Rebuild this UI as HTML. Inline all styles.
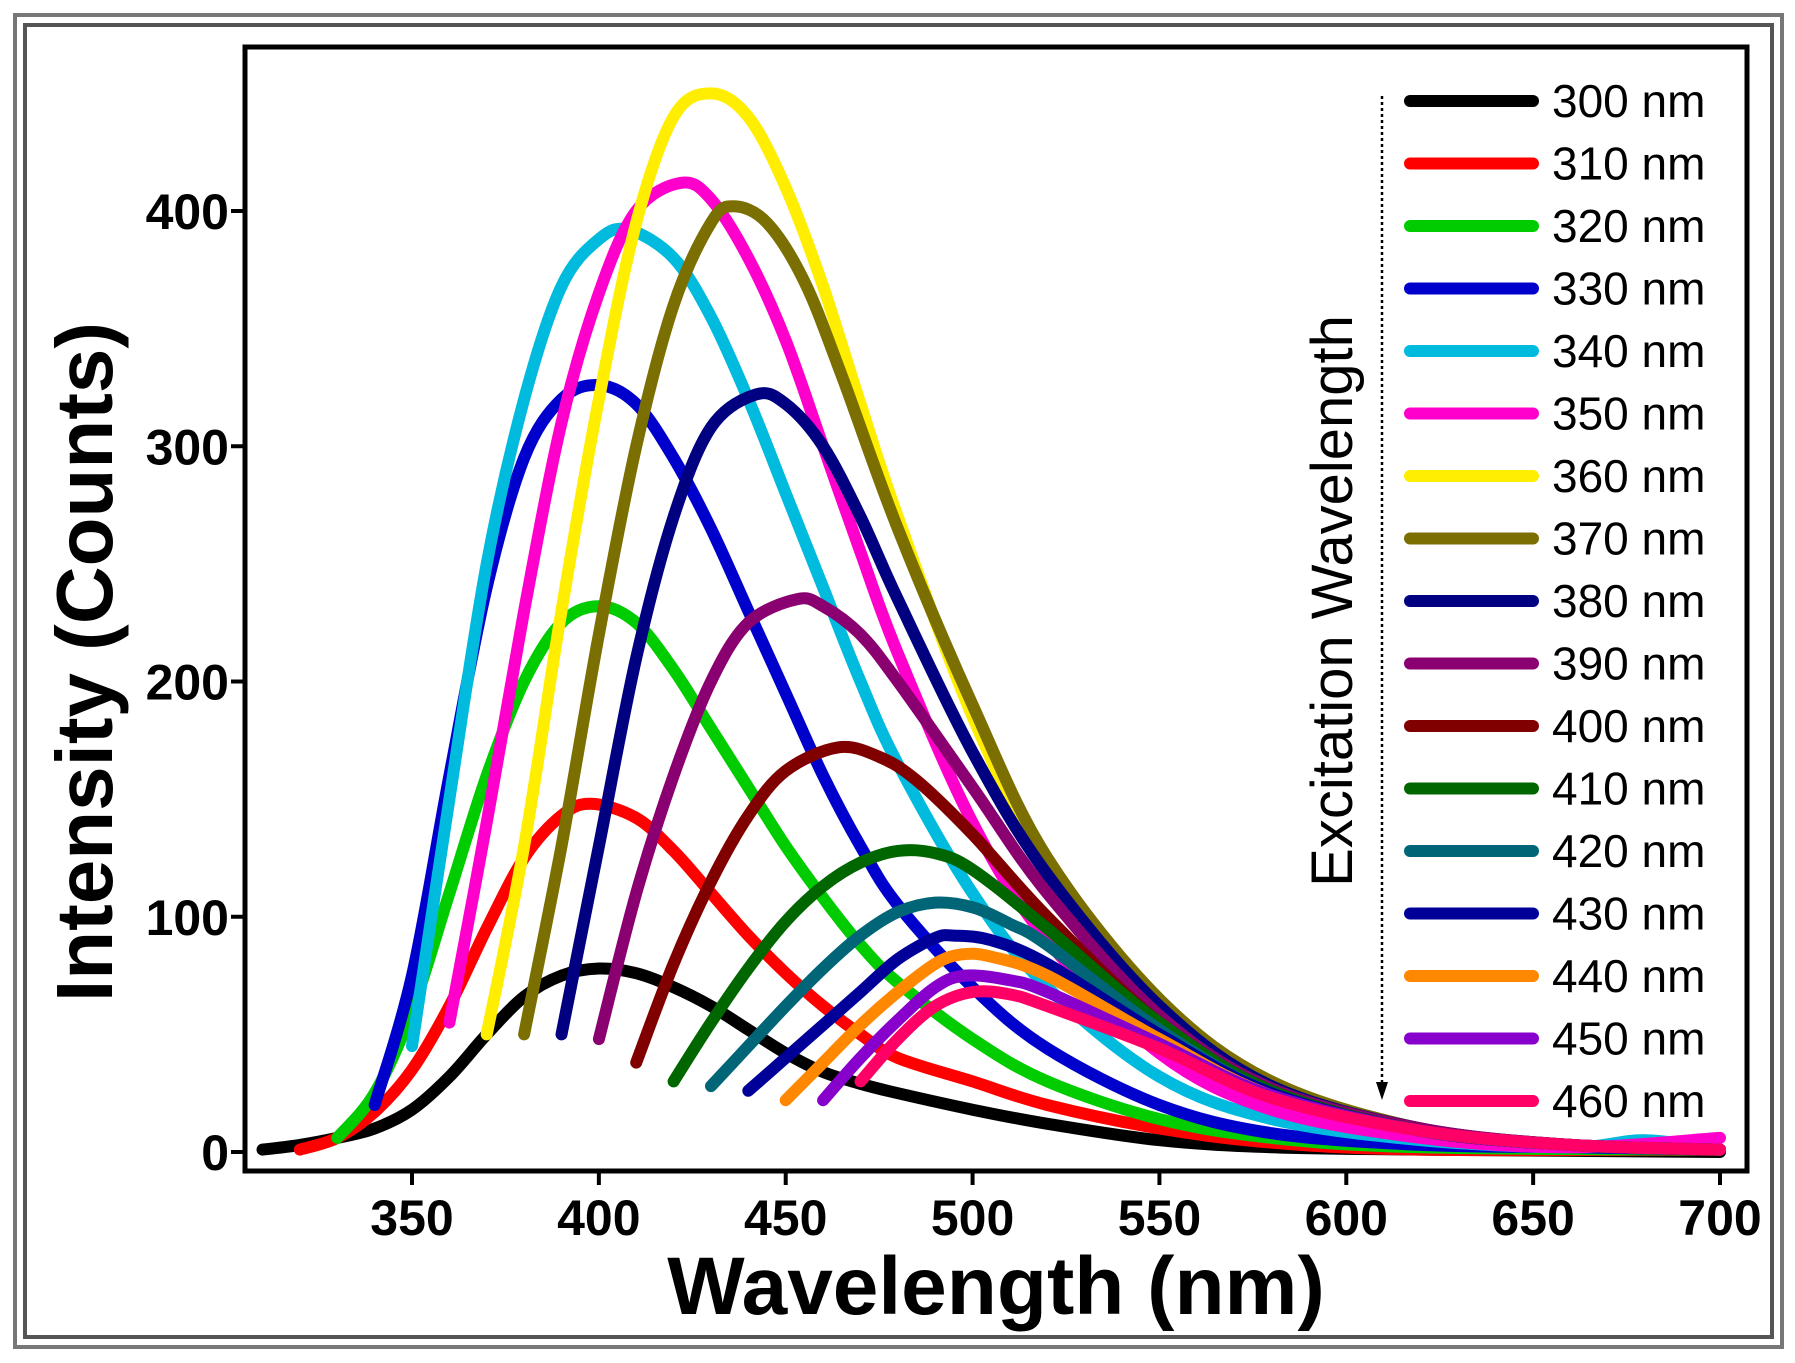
<!DOCTYPE html>
<html><head><meta charset="utf-8"><style>
html,body{margin:0;padding:0;background:#fff}
svg{display:block}
text{font-family:"Liberation Sans",Arial,sans-serif}
</style></head><body>
<svg id="chart" width="1795" height="1363" viewBox="0 0 1795 1363" xmlns="http://www.w3.org/2000/svg">
<rect x="15" y="15" width="1767" height="1332" fill="none" stroke="#777" stroke-width="4"/>
<rect x="25" y="25" width="1747" height="1312" fill="none" stroke="#555" stroke-width="4"/>
<g id="plot"></g>
</svg>
<script>
const wl300=[310,320,330,340,350,360,370,380,390,400,410,420,430,440,450,460,470,480,500,520,550,580,620,700];
const i300=[1,3,6,10,18,32,50,66,75,78,76,70,62,52,42,34,29,25,18,12,5,2,1,0];
const wl310=[320,330,340,350,360,370,380,390,398,410,420,430,440,450,460,470,480,500,520,550,580,620,700];
const i310=[1,6,17,35,62,95,125,143,148,142,128,110,92,76,62,50,40,30,20,10,4,1,1];
const wl320=[330,340,350,360,370,380,390,400,410,420,430,440,450,460,470,480,500,520,550,580,620,700];
const i320=[6,25,60,110,160,200,225,232,225,205,180,155,130,108,88,72,48,30,14,6,2,1];
const wl330=[340,350,360,370,380,390,400,410,420,430,440,450,460,470,480,500,520,550,580,620,660,700];
const i330=[20,75,160,240,295,320,326,318,295,265,230,195,160,130,105,70,44,20,8,3,2,1];
const wl340=[350,360,370,380,390,400,408,420,430,440,450,460,470,480,500,520,550,580,620,660,680,700];
const i340=[45,150,250,320,368,388,392,380,355,320,280,240,200,165,110,70,32,14,5,2,5,1];
const wl350=[360,370,380,390,400,410,422,430,440,450,460,470,480,500,520,550,580,620,660,700];
const i350=[55,140,230,310,365,400,412,405,380,345,300,255,212,140,90,42,18,6,2,6];
const wl360=[370,380,390,400,410,420,430,440,450,460,470,480,500,520,550,580,620,660,700];
const i360=[50,130,230,320,395,440,450,440,410,368,318,270,185,122,62,28,10,3,1];
const wl370=[380,390,400,410,420,430,436,445,455,465,480,500,520,550,580,620,660,700];
const i370=[50,130,220,300,360,395,402,395,370,330,265,190,125,65,30,10,3,1];
const wl380=[390,400,410,420,430,442,450,460,470,480,500,520,550,580,620,660,700];
const i380=[50,130,210,270,308,322,318,300,270,235,170,118,62,28,10,3,1];
const wl390=[400,410,420,430,440,453,460,470,480,500,520,550,580,620,660,700];
const i390=[48,110,160,200,225,235,232,220,200,155,110,58,27,10,3,1];
const wl400=[410,420,430,440,450,464,475,485,500,520,550,580,620,660,700];
const i400=[38,80,115,143,162,172,168,158,135,100,55,26,9,3,1];
const wl410=[420,430,440,450,460,470,480,490,500,520,550,580,620,660,700];
const i410=[30,55,78,98,113,123,128,127,120,95,55,26,9,3,1];
const wl420=[430,440,450,460,470,480,490,500,510,520,550,580,620,660,700];
const i420=[28,45,62,78,92,102,106,104,97,88,52,25,9,3,1];
const wl430=[440,450,460,470,480,490,495,505,520,550,580,620,660,700];
const i430=[26,40,54,68,82,91,92,90,80,50,25,9,3,1];
const wl440=[450,460,470,480,490,497,505,520,550,580,620,660,700];
const i440=[22,38,54,68,80,84,83,75,48,24,9,3,1];
const wl450=[460,470,480,490,498,510,520,550,580,620,660,700];
const i450=[22,40,56,70,75,73,68,46,24,9,3,1];
const wl460=[470,480,490,500,510,520,550,580,620,660,700];
const i460=[30,48,62,68,67,62,44,23,9,3,1];
const labels=["300 nm","310 nm","320 nm","330 nm","340 nm","350 nm","360 nm","370 nm","380 nm","390 nm","400 nm","410 nm","420 nm","430 nm","440 nm","450 nm","460 nm"];
const colors=["#000000","#ff0000","#00cc00","#0000cc","#00bbdd","#ff00cc","#ffee00","#7a6f00","#000080","#8b0070","#800000","#006600","#006677","#000099","#ff8800","#8800cc","#ff0066"];
const xs=[wl300,wl310,wl320,wl330,wl340,wl350,wl360,wl370,wl380,wl390,wl400,wl410,wl420,wl430,wl440,wl450,wl460];
const ys=[i300,i310,i320,i330,i340,i350,i360,i370,i380,i390,i400,i410,i420,i430,i440,i450,i460];
const xTicks=[350,400,450,500,550,600,650,700];
const yTicks=[0,100,200,300,400];

const L=245,T=47,R=1747,B=1171;
const X=v=>412+(v-350)*(1720-412)/350;
const Y=v=>1152-v*(1152-211)/400;
const NS="http://www.w3.org/2000/svg";
const g=document.getElementById('plot');
function mk(tag,attrs,parent){const e=document.createElementNS(NS,tag);for(const k in attrs)e.setAttribute(k,attrs[k]);(parent||g).appendChild(e);return e;}

const fr=mk('rect',{x:L,y:T,width:R-L,height:B-T,fill:'none',stroke:'#000','stroke-width':5});



xTicks.forEach(t=>{
  const ln=mk('line',{x1:X(t),x2:X(t),y1:B,y2:B+14,stroke:'#000','stroke-width':4});
  
  
  const tx=mk('text',{x:X(t),y:B+64,'text-anchor':'middle','font-size':50,'font-weight':'bold'});
  tx.textContent=t;
  
  
});
yTicks.forEach(t=>{
  const ln=mk('line',{x1:L-14,x2:L,y1:Y(t),y2:Y(t),stroke:'#000','stroke-width':4});
  
  
  const tx=mk('text',{x:L-16,y:Y(t)+18,'text-anchor':'end','font-size':50,'font-weight':'bold'});
  tx.textContent=t;
  
  
});
const xt=mk('text',{x:996,y:1314,'text-anchor':'middle','font-size':82,'font-weight':'bold'});
xt.textContent='Wavelength (nm)';


const yt=mk('text',{x:0,y:0,'text-anchor':'middle','font-size':80,'font-weight':'bold',transform:'translate(112,662) rotate(-90)'});
yt.textContent='Intensity (Counts)';



function pathFor(xa,ya){
  const p=xa.map((v,i)=>[X(v),Y(ya[i])]);
  let d='M'+p[0][0].toFixed(1)+','+p[0][1].toFixed(1);
  for(let i=0;i<p.length-1;i++){
    const p0=p[i-1]||p[i],p1=p[i],p2=p[i+1],p3=p[i+2]||p2;
    const c1=[p1[0]+(p2[0]-p0[0])/6,p1[1]+(p2[1]-p0[1])/6];
    const c2=[p2[0]-(p3[0]-p1[0])/6,p2[1]-(p3[1]-p1[1])/6];
    d+='C'+c1.map(n=>n.toFixed(1)).join(',')+' '+c2.map(n=>n.toFixed(1)).join(',')+' '+p2[0].toFixed(1)+','+p2[1].toFixed(1);
  }
  return d;
}
xs.forEach((xa,i)=>{
  const pth=mk('path',{d:pathFor(xa,ys[i]),fill:'none',stroke:colors[i],'stroke-width':12,'stroke-linecap':'round','stroke-linejoin':'round'});
  
  
});

labels.forEach((lb,i)=>{
  const y=101+i*62.5;
  const ln=mk('line',{x1:1410,x2:1533,y1:y,y2:y,stroke:colors[i],'stroke-width':12,'stroke-linecap':'round'});
  
  
  const tx=mk('text',{x:1552,y:y+16,'font-size':46});
  tx.textContent=lb;
  
  
});
const ar=mk('line',{x1:1382,x2:1382,y1:96,y2:1085,stroke:'#000','stroke-width':2.5,'stroke-dasharray':'3,3'});


const ah=mk('path',{d:'M1376,1082 L1388,1082 L1382,1100 Z',fill:'#000'});


const et=mk('text',{x:0,y:0,'text-anchor':'middle','font-size':58,transform:'translate(1352,601) rotate(-90)'});
et.textContent='Excitation Wavelength';


</script>
</body></html>
